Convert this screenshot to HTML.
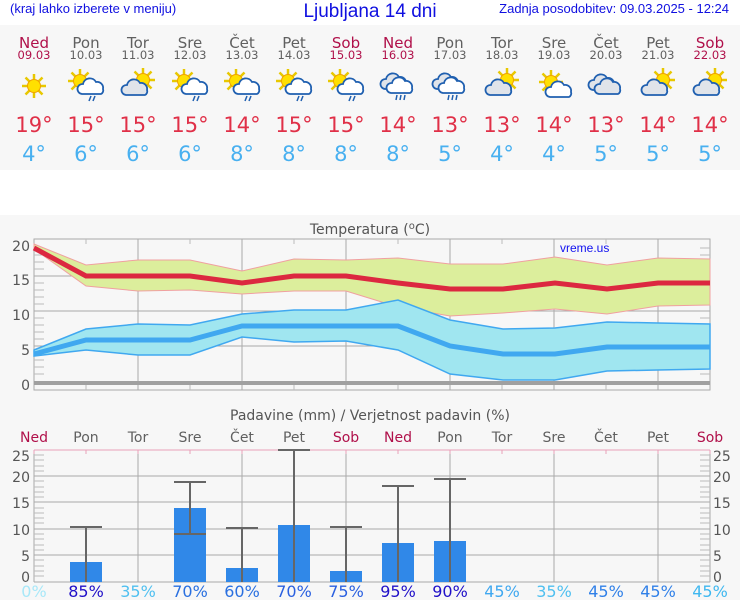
<!DOCTYPE html>
<html><head><meta charset="utf-8"><style>
html,body{margin:0;padding:0;background:#f7f7f7;}
svg{display:block;font-family:"DejaVu Sans","Liberation Sans",sans-serif;}
</style></head><body>
<svg width="740" height="600" viewBox="0 0 740 600" xmlns="http://www.w3.org/2000/svg">
<defs>
<g id="sun"><g stroke="#e8c800" stroke-width="2.5"><line x1="0" y1="-12" x2="0" y2="12"/><line x1="-12" y1="0" x2="12" y2="0"/><line x1="-8.5" y1="-8.5" x2="8.5" y2="8.5"/><line x1="-8.5" y1="8.5" x2="8.5" y2="-8.5"/></g><circle r="6.5" fill="#ffe000" stroke="#f0a000" stroke-width="1"/></g>
<g id="cloud"><path d="M-10 6 a5 5 0 0 1 1-10 a7 7 0 0 1 13-2 a6 6 0 0 1 7 7 a4 4 0 0 1-2 5 z" fill="#e0e4ea" stroke="#2060b0" stroke-width="1.8"/></g>
<g id="wcloud"><path d="M-10 6 a5 5 0 0 1 1-10 a7 7 0 0 1 13-2 a6 6 0 0 1 7 7 a4 4 0 0 1-2 5 z" fill="#fff" stroke="#2060b0" stroke-width="1.8"/></g>
<g id="rain" stroke="#2060b0" stroke-width="1.5"><line x1="-1" y1="8" x2="-3" y2="13"/><line x1="3" y1="8" x2="1" y2="13"/></g>
<g id="rain3" stroke="#2060b0" stroke-width="1.5"><line x1="-4" y1="8" x2="-5" y2="13"/><line x1="0" y1="8" x2="-1" y2="13"/><line x1="4" y1="8" x2="3" y2="13"/></g>
</defs>
<rect x="0" y="0" width="740" height="25" fill="#fff"/>
<rect x="0" y="170" width="740" height="45" fill="#fff"/>
<text x="10" y="13" font-family="Liberation Sans,sans-serif" font-size="13" fill="#1010e0">(kraj lahko izberete v meniju)</text>
<text x="370" y="17" text-anchor="middle" font-family="Liberation Sans,sans-serif" font-size="19" fill="#1010e0">Ljubljana 14 dni</text>
<text x="729" y="13" text-anchor="end" font-family="Liberation Sans,sans-serif" font-size="13" fill="#1010e0">Zadnja posodobitev: 09.03.2025 - 12:24</text>

<g font-size="15" text-anchor="middle">
<text x="34" y="48" fill="#b0104a">Ned</text><text x="86" y="48" fill="#606060">Pon</text><text x="138" y="48" fill="#606060">Tor</text><text x="190" y="48" fill="#606060">Sre</text><text x="242" y="48" fill="#606060">Čet</text><text x="294" y="48" fill="#606060">Pet</text><text x="346" y="48" fill="#b0104a">Sob</text>
<text x="398" y="48" fill="#b0104a">Ned</text><text x="450" y="48" fill="#606060">Pon</text><text x="502" y="48" fill="#606060">Tor</text><text x="554" y="48" fill="#606060">Sre</text><text x="606" y="48" fill="#606060">Čet</text><text x="658" y="48" fill="#606060">Pet</text><text x="710" y="48" fill="#b0104a">Sob</text>
</g>
<g font-size="11.5" text-anchor="middle">
<text x="34" y="59" fill="#b0104a">09.03</text><text x="86" y="59" fill="#606060">10.03</text><text x="138" y="59" fill="#606060">11.03</text><text x="190" y="59" fill="#606060">12.03</text><text x="242" y="59" fill="#606060">13.03</text><text x="294" y="59" fill="#606060">14.03</text><text x="346" y="59" fill="#b0104a">15.03</text>
<text x="398" y="59" fill="#b0104a">16.03</text><text x="450" y="59" fill="#606060">17.03</text><text x="502" y="59" fill="#606060">18.03</text><text x="554" y="59" fill="#606060">19.03</text><text x="606" y="59" fill="#606060">20.03</text><text x="658" y="59" fill="#606060">21.03</text><text x="710" y="59" fill="#b0104a">22.03</text>
</g>
<use href="#sun" x="34" y="86"/>
<g transform="translate(86,86)"><use href="#sun" x="-6" y="-5"/><use href="#wcloud" x="6" y="2"/><use href="#rain" x="6" y="2"/></g>
<g transform="translate(138,86)"><use href="#sun" x="5" y="-6"/><use href="#cloud" x="-2" y="3"/></g>
<g transform="translate(190,86)"><use href="#sun" x="-6" y="-5"/><use href="#wcloud" x="6" y="2"/><use href="#rain" x="6" y="2"/></g>
<g transform="translate(242,86)"><use href="#sun" x="-6" y="-5"/><use href="#wcloud" x="6" y="2"/><use href="#rain" x="6" y="2"/></g>
<g transform="translate(294,86)"><use href="#sun" x="-6" y="-5"/><use href="#wcloud" x="6" y="2"/><use href="#rain" x="6" y="2"/></g>
<g transform="translate(346,86)"><use href="#sun" x="-6" y="-5"/><use href="#wcloud" x="6" y="2"/><use href="#rain" x="6" y="2"/></g>
<g transform="translate(398,86)"><use href="#cloud" x="-3" y="-3"/><use href="#wcloud" x="3" y="1"/><use href="#rain3" x="3" y="1"/></g>
<g transform="translate(450,86)"><use href="#cloud" x="-3" y="-3"/><use href="#wcloud" x="3" y="1"/><use href="#rain3" x="3" y="1"/></g>
<g transform="translate(502,86)"><use href="#sun" x="5" y="-6"/><use href="#cloud" x="-2" y="3"/></g>
<g transform="translate(554,86)"><use href="#sun" x="-3" y="-4"/><use href="#wcloud" x="6" y="5"/></g>
<g transform="translate(606,86)"><use href="#cloud" x="-3" y="-2"/><use href="#cloud" x="3" y="2"/></g>
<g transform="translate(658,86)"><use href="#sun" x="5" y="-6"/><use href="#cloud" x="-2" y="3"/></g>
<g transform="translate(710,86)"><use href="#sun" x="5" y="-6"/><use href="#cloud" x="-2" y="3"/></g>

<g font-size="21" text-anchor="middle" fill="#e03048">
<text x="34" y="132">19°</text><text x="86" y="132">15°</text><text x="138" y="132">15°</text><text x="190" y="132">15°</text><text x="242" y="132">14°</text><text x="294" y="132">15°</text><text x="346" y="132">15°</text>
<text x="398" y="132">14°</text><text x="450" y="132">13°</text><text x="502" y="132">13°</text><text x="554" y="132">14°</text><text x="606" y="132">13°</text><text x="658" y="132">14°</text><text x="710" y="132">14°</text>
</g>
<g font-size="21" text-anchor="middle" fill="#48b0f0">
<text x="34" y="161">4°</text><text x="86" y="161">6°</text><text x="138" y="161">6°</text><text x="190" y="161">6°</text><text x="242" y="161">8°</text><text x="294" y="161">8°</text><text x="346" y="161">8°</text>
<text x="398" y="161">8°</text><text x="450" y="161">5°</text><text x="502" y="161">4°</text><text x="554" y="161">4°</text><text x="606" y="161">5°</text><text x="658" y="161">5°</text><text x="710" y="161">5°</text>
</g>

<text x="370" y="234" text-anchor="middle" font-size="14" fill="#555">Temperatura (<tspan font-size="10" dy="-5">o</tspan><tspan dy="5">C)</tspan></text>
<g stroke="#aaa" stroke-width="1" fill="none">
<rect x="34" y="239" width="676" height="151"/>
<line x1="34" y1="276" x2="710" y2="276"/><line x1="34" y1="311" x2="710" y2="311"/><line x1="34" y1="346" x2="710" y2="346"/>
<line x1="138" y1="239" x2="138" y2="390"/><line x1="242" y1="239" x2="242" y2="390"/><line x1="346" y1="239" x2="346" y2="390"/><line x1="450" y1="239" x2="450" y2="390"/><line x1="554" y1="239" x2="554" y2="390"/><line x1="658" y1="239" x2="658" y2="390"/>
</g>
<g stroke="#bbb" stroke-width="1">
<path d="M34 248h10M34 255h10M34 262h10M34 269h10M34 283h10M34 290h10M34 297h10M34 304h10M34 318h10M34 325h10M34 332h10M34 339h10M34 353h10M34 360h10M34 367h10M34 374h10"/>
<path d="M700 248h10M700 255h10M700 262h10M700 269h10M700 283h10M700 290h10M700 297h10M700 304h10M700 318h10M700 325h10M700 332h10M700 339h10M700 353h10M700 360h10M700 367h10M700 374h10"/>
<path d="M86 385v5M190 385v5M294 385v5M398 385v5M502 385v5M606 385v5M86 239v5M190 239v5M294 239v5M398 239v5M502 239v5M606 239v5"/>
</g>
<g font-size="14" fill="#555" text-anchor="end">
<text x="30" y="251">20</text><text x="30" y="285">15</text><text x="30" y="320">10</text><text x="30" y="355">5</text><text x="30" y="390">0</text>
</g>
<polygon points="34,244 86,265 138,260 190,260 242,271 294,259 346,260 398,258 450,264 503,264 555,257 607,265 658,258 710,259 710,305 658,306 607,314 555,309 503,313 450,316 398,307 346,291 294,291 242,294 190,290 138,291 86,286 34,249" fill="#dcee9c" stroke="#f0a0a0" stroke-width="1"/>
<polygon points="34,350 86,329 138,324 190,325 242,314 294,310 346,310 398,300 450,320 503,329 555,328 607,322 658,323 710,324 710,369 658,370 607,371 555,380 503,380 450,374 398,350 346,341 294,342 242,337 190,355 138,355 86,350 34,356" fill="#a0e6f0" stroke="#40a8f0" stroke-width="1.5"/>
<polyline points="34,248 86,276 138,276 190,276 242,283 294,276 346,276 398,283 450,289 503,289 555,283 607,289 658,283 710,283" fill="none" stroke="#dc2840" stroke-width="5"/>
<polyline points="34,354 86,340 138,340 190,340 242,326 294,326 346,326 398,326 450,346 503,354 555,354 607,347 658,347 710,347" fill="none" stroke="#40a8f0" stroke-width="5"/>
<line x1="34" y1="383" x2="710" y2="383" stroke="#a0a0a0" stroke-width="4"/>
<text x="560" y="252" font-family="Liberation Sans,sans-serif" font-size="12" fill="#1010f0">vreme.us</text>

<text x="370" y="420" text-anchor="middle" font-size="14" fill="#555">Padavine (mm) / Verjetnost padavin (%)</text>
<g font-size="14" text-anchor="middle">
<text x="34" y="442" fill="#b0104a">Ned</text><text x="86" y="442" fill="#606060">Pon</text><text x="138" y="442" fill="#606060">Tor</text><text x="190" y="442" fill="#606060">Sre</text><text x="242" y="442" fill="#606060">Čet</text><text x="294" y="442" fill="#606060">Pet</text><text x="346" y="442" fill="#b0104a">Sob</text>
<text x="398" y="442" fill="#b0104a">Ned</text><text x="450" y="442" fill="#606060">Pon</text><text x="502" y="442" fill="#606060">Tor</text><text x="554" y="442" fill="#606060">Sre</text><text x="606" y="442" fill="#606060">Čet</text><text x="658" y="442" fill="#606060">Pet</text><text x="710" y="442" fill="#b0104a">Sob</text>
</g>
<g stroke="#aaa" stroke-width="1" fill="none">
<line x1="34" y1="450" x2="34" y2="582"/><line x1="710" y1="450" x2="710" y2="582"/><line x1="34" y1="582" x2="710" y2="582"/>
<line x1="34" y1="476" x2="710" y2="476"/><line x1="34" y1="502" x2="710" y2="502"/><line x1="34" y1="529" x2="710" y2="529"/><line x1="34" y1="555" x2="710" y2="555"/>
<line x1="138" y1="450" x2="138" y2="582"/><line x1="242" y1="450" x2="242" y2="582"/><line x1="346" y1="450" x2="346" y2="582"/><line x1="450" y1="450" x2="450" y2="582"/><line x1="554" y1="450" x2="554" y2="582"/><line x1="658" y1="450" x2="658" y2="582"/>
</g>
<line x1="34" y1="450" x2="710" y2="450" stroke="#e8a0b8" stroke-width="1"/>
<path d="M34 450v4M86 450v4M138 450v4M190 450v4M242 450v4M294 450v4M346 450v4M398 450v4M450 450v4M502 450v4M554 450v4M606 450v4M658 450v4M710 450v4" stroke="#e8a0b8"/>
<g stroke="#bbb" stroke-width="1">
<path d="M34 455h10M34 460h10M34 466h10M34 471h10M34 481h10M34 487h10M34 492h10M34 497h10M34 508h10M34 513h10M34 518h10M34 523h10M34 534h10M34 539h10M34 545h10M34 550h10M34 560h10M34 566h10M34 571h10M34 576h10"/>
<path d="M700 455h10M700 460h10M700 466h10M700 471h10M700 481h10M700 487h10M700 492h10M700 497h10M700 508h10M700 513h10M700 518h10M700 523h10M700 534h10M700 539h10M700 545h10M700 550h10M700 560h10M700 566h10M700 571h10M700 576h10"/>
</g>
<g font-size="14" fill="#555" text-anchor="end">
<text x="30" y="461">25</text><text x="30" y="482">20</text><text x="30" y="508">15</text><text x="30" y="535">10</text><text x="30" y="561">5</text><text x="30" y="582">0</text>
</g>
<g font-size="14" fill="#555">
<text x="713" y="461">25</text><text x="713" y="482">20</text><text x="713" y="508">15</text><text x="713" y="535">10</text><text x="713" y="561">5</text><text x="713" y="582">0</text>
</g>
<g fill="#3088e8">
<rect x="70" y="562" width="32" height="20"/><rect x="174" y="508" width="32" height="74"/><rect x="226" y="568" width="32" height="14"/><rect x="278" y="525" width="32" height="57"/><rect x="330" y="571" width="32" height="11"/><rect x="382" y="543" width="32" height="39"/><rect x="434" y="541" width="32" height="41"/>
</g>
<g stroke="#666" stroke-width="2">
<path d="M86 582V527M70 527h32"/>
<path d="M190 534V482M174 482h32M174 534h32"/>
<path d="M242 582V528M226 528h32"/>
<path d="M294 582V450M278 450h32"/>
<path d="M346 582V527M330 527h32"/>
<path d="M398 582V486M382 486h32"/>
<path d="M450 582V479M434 479h32"/>
</g>
<g font-size="16" text-anchor="middle">
<text x="34" y="597" fill="#a8e8f8">0%</text><text x="86" y="597" fill="#2010c8">85%</text><text x="138" y="597" fill="#50c0f0">35%</text><text x="190" y="597" fill="#2a70e0">70%</text><text x="242" y="597" fill="#2a70e0">60%</text><text x="294" y="597" fill="#2a60e0">70%</text><text x="346" y="597" fill="#2a60e0">75%</text>
<text x="398" y="597" fill="#2010c8">95%</text><text x="450" y="597" fill="#2010c8">90%</text><text x="502" y="597" fill="#40a8f0">45%</text><text x="554" y="597" fill="#50c0f0">35%</text><text x="606" y="597" fill="#3080e8">45%</text><text x="658" y="597" fill="#3080e8">45%</text><text x="710" y="597" fill="#40b8f0">45%</text>
</g>
</svg>
</body></html>
